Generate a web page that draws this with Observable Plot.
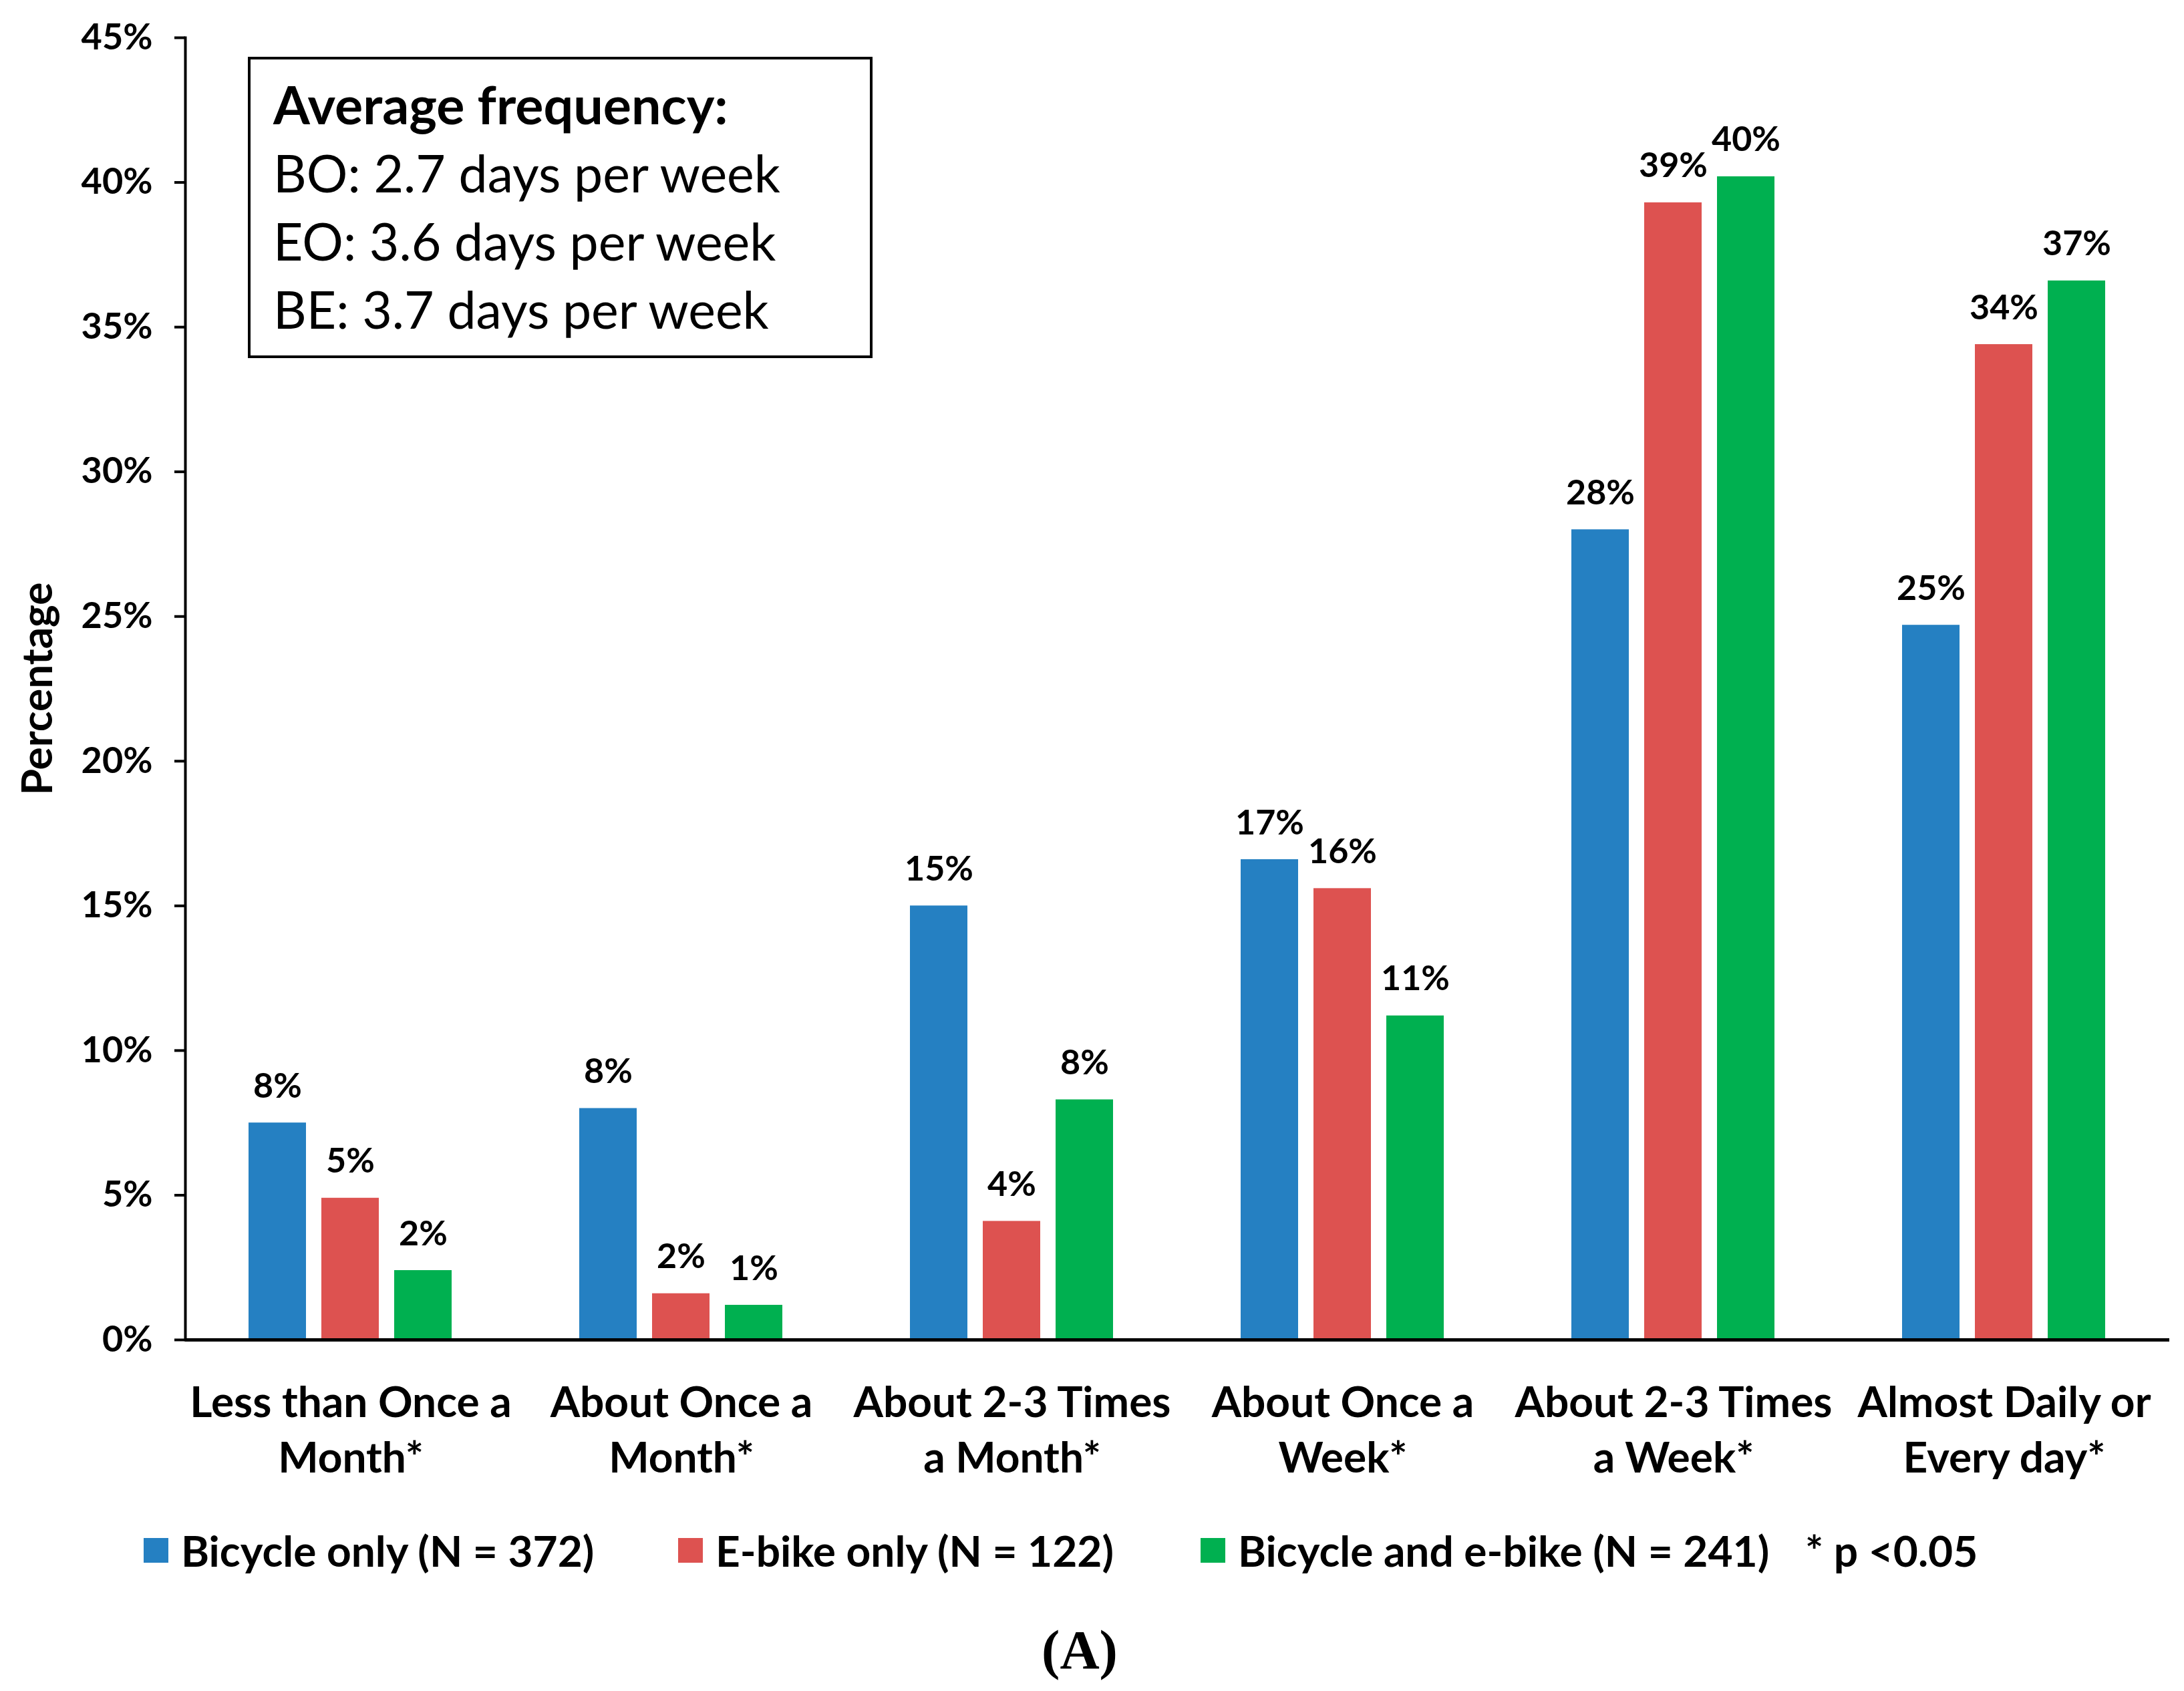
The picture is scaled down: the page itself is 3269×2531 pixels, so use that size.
<!DOCTYPE html>
<html>
<head>
<meta charset="utf-8">
<script src="https://cdn.jsdelivr.net/npm/d3@7"></script>
<script src="https://cdn.jsdelivr.net/npm/@observablehq/plot@0.6"></script>
<style>
  html, body { margin: 0; padding: 0; background: #fff; }
  #wrap { position: relative; width: 3269px; height: 2531px; font-family: Lato, "Open Sans", sans-serif; color: #000; }
  #chart svg { display: block; }
  .note { position: absolute; left: 371px; top: 85px; width: 935px; height: 451px; box-sizing: border-box;
          border: 4px solid #000; padding: 16px 0 0 34px; background: #fff; }
  .note div { line-height: 102px; font-size: 77px; white-space: nowrap; }
  .note div.t { font-weight: 700; font-size: 79px; }
  .leg { position: absolute; top: 2285px; height: 70px; display: flex; align-items: center; gap: 19px;
         font-weight: 700; font-size: 64px; white-space: nowrap; }
  .sw { width: 37px; height: 37px; }
  .cap { position: absolute; left: 0; width: 3232px; top: 2420px; line-height: 100px; text-align: center;
         font-family: "Liberation Serif", "DejaVu Serif", serif; font-weight: 700; font-size: 82px; }
</style>
</head>
<body>
<div id="wrap">
  <div id="chart"></div>
  <div class="note" id="note"></div>
  <div id="legend"></div>
  <div class="cap">(A)</div>
</div>
<script>
// ---- data ----
const categories = [
  "Less than Once a Month*",
  "About Once a Month*",
  "About 2-3 Times a Month*",
  "About Once a Week*",
  "About 2-3 Times a Week*",
  "Almost Daily or Every day*"
];
const categoryLines = [
  "Less than Once a\nMonth*",
  "About Once a\nMonth*",
  "About 2-3 Times\na Month*",
  "About Once a\nWeek*",
  "About 2-3 Times\na Week*",
  "Almost Daily or\nEvery day*"
];
const series = ["Bicycle only (N = 372)", "E-bike only (N = 122)", "Bicycle and e-bike (N = 241)"];
const seriesColors = ["#2580C2", "#DD5250", "#00B050"];
const bicycleOnly = [7.5, 8.0, 15.0, 16.6, 28.0, 24.7];
const ebikeOnly   = [4.9, 1.6, 4.1, 15.6, 39.3, 34.4];
const bothBikes   = [2.4, 1.2, 8.3, 11.2, 40.2, 36.6];
const yTicks = [0, 5, 10, 15, 20, 25, 30, 35, 40, 45];
const noteLines = ["Average frequency:", "BO: 2.7 days per week", "EO: 3.6 days per week", "BE: 3.7 days per week"];
const significance = "* p <0.05";

// ---- table ----
const seriesValues = [bicycleOnly, ebikeOnly, bothBikes];
const data = [];
categories.forEach((c, i) => series.forEach((s, j) => data.push({category: c, series: s, value: seriesValues[j][i]})));
const lineOf = new Map(categories.map((c, i) => [c, categoryLines[i]]));

const chart = Plot.plot({
  width: 3269,
  height: 2240,
  marginLeft: 275,
  marginRight: 20,
  marginTop: 56,
  marginBottom: 235,
  style: {fontFamily: "Lato, 'Open Sans', sans-serif", background: "#fff", color: "#000"},
  fx: {domain: categories, padding: 0, label: null},
  x: {domain: series, paddingInner: 0.21, paddingOuter: 0.87, axis: null},
  y: {domain: [0, 45], label: null},
  color: {domain: series, range: seriesColors},
  marks: [
    Plot.barY(data, {fx: "category", x: "series", y: "value", fill: "series"}),
    Plot.text(data, {fx: "category", x: "series", y: "value", text: d => Math.round(d.value) + "%",
      lineAnchor: "bottom", dy: -38, fontSize: 52, fontWeight: "bold", fill: "#000"}),
    Plot.ruleY([0], {stroke: "#000", strokeWidth: 5}),
    Plot.frame({anchor: "left", facetAnchor: "left", stroke: "#000", strokeWidth: 4}),
    Plot.axisY({ticks: yTicks, tickFormat: d => d + "%", tickSize: 16, tickPadding: 33, strokeWidth: 4,
      fontSize: 54, fontWeight: "bold", label: "Percentage", labelAnchor: "center", labelArrow: "none", labelOffset: 245}),
    Plot.axisFx({anchor: "bottom", tickSize: 0, tickPadding: 56, fontSize: 64, fontWeight: "bold", lineHeight: 1.3,
      tickFormat: d => lineOf.get(d), label: null})
  ]
});
document.getElementById("chart").appendChild(chart);
chart.querySelectorAll("g[aria-label='y-axis label'] text").forEach(t => { t.setAttribute("font-size", 64); t.setAttribute("font-weight", "bold"); });

// ---- note box ----
const note = document.getElementById("note");
noteLines.forEach((t, i) => { const d = document.createElement("div"); if (i === 0) d.className = "t"; d.textContent = t; note.appendChild(d); });

// ---- legend ----
const legend = document.getElementById("legend");
const legendLeft = [215, 1015, 1797];
series.forEach((s, i) => {
  const item = document.createElement("div");
  item.className = "leg";
  item.style.left = legendLeft[i] + "px";
  const sw = document.createElement("div");
  sw.className = "sw"; sw.style.background = seriesColors[i];
  const tx = document.createElement("span"); tx.textContent = s;
  item.appendChild(sw); item.appendChild(tx);
  legend.appendChild(item);
});
const sig = document.createElement("div");
sig.className = "leg"; sig.style.left = "2702px"; sig.textContent = significance;
legend.appendChild(sig);
</script>
</body>
</html>
